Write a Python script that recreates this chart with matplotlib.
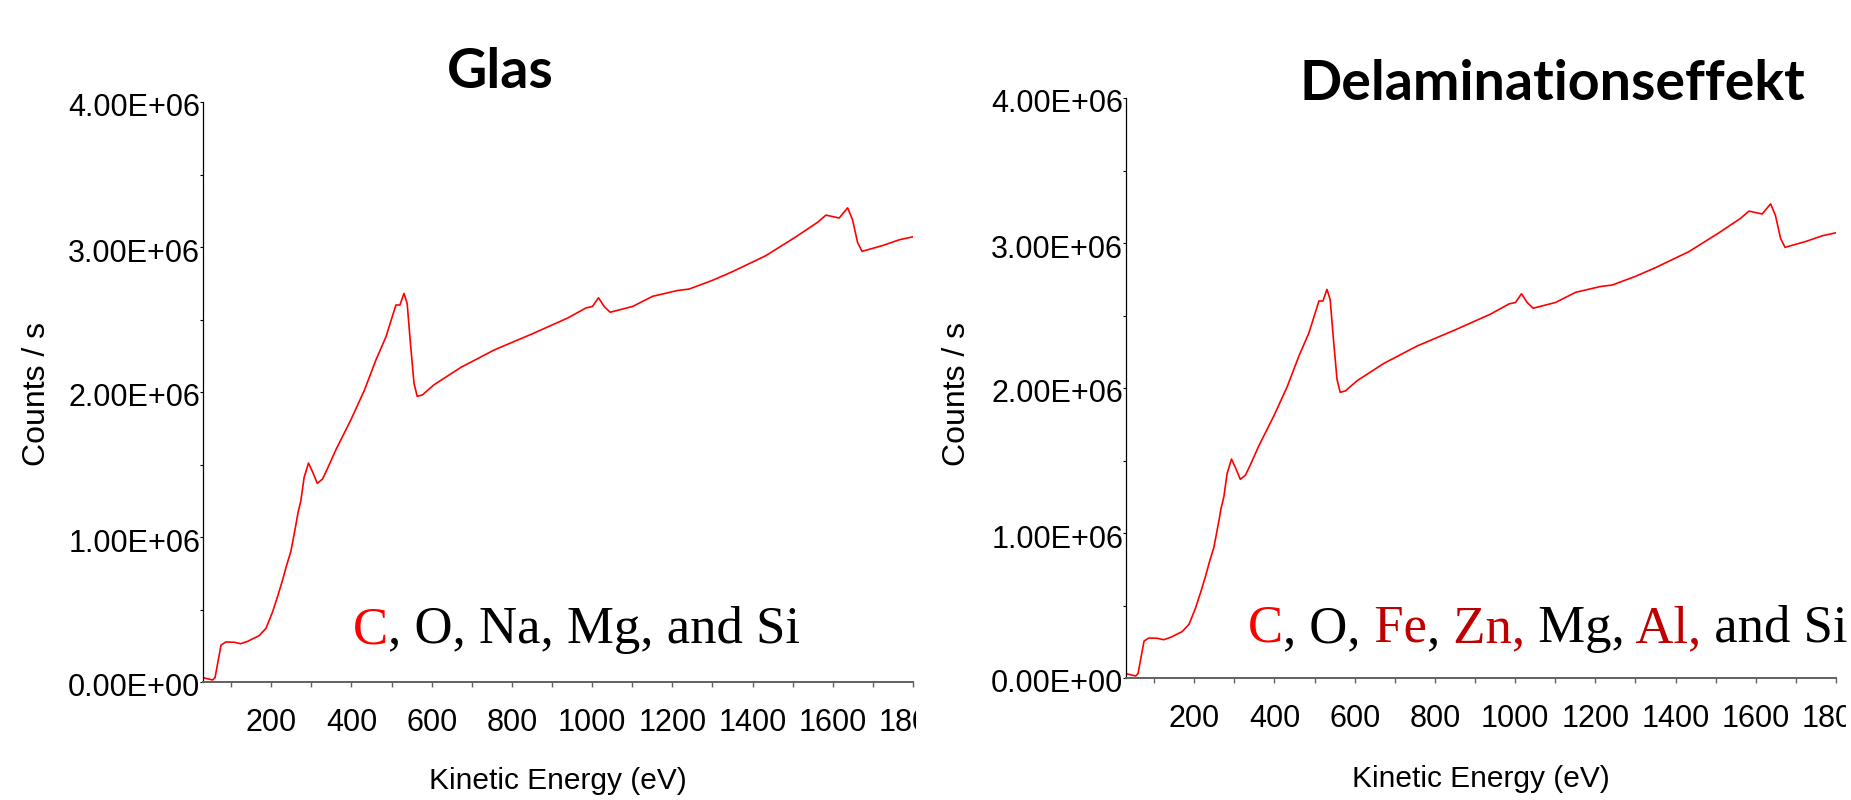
import numpy as np
import matplotlib
matplotlib.use("Agg")
import matplotlib.pyplot as plt
from matplotlib.ticker import FixedLocator, FuncFormatter
from matplotlib.transforms import Bbox, ScaledTranslation

# ---- data (kinetic energy in eV, counts/s in 1e6) ----
energy = [30, 54, 60, 75, 87, 108, 124, 141, 170, 187, 203, 216, 228, 239, 249,
          262, 267, 274, 282, 293, 303, 315, 328, 340, 361, 399, 432, 461, 486,
          511, 521, 531, 539, 547, 556, 564, 577, 606, 673, 756, 850, 939, 985,
          1001, 1016, 1030, 1045, 1101, 1151, 1213, 1242, 1300, 1350, 1433,
          1508, 1562, 1583, 1616, 1637, 1649, 1662, 1673, 1724, 1766, 1799]
counts_glas = [0.03, 0.014, 0.03, 0.255, 0.276, 0.274, 0.264, 0.28, 0.32, 0.37,
               0.48, 0.59, 0.70, 0.81, 0.90, 1.09, 1.17, 1.25, 1.41, 1.51, 1.45,
               1.37, 1.40, 1.47, 1.60, 1.81, 2.01, 2.22, 2.38, 2.60, 2.60, 2.68,
               2.61, 2.34, 2.06, 1.97, 1.98, 2.05, 2.17, 2.29, 2.40, 2.51, 2.58,
               2.59, 2.65, 2.59, 2.55, 2.59, 2.66, 2.70, 2.71, 2.77, 2.83, 2.94,
               3.07, 3.17, 3.22, 3.20, 3.27, 3.19, 3.03, 2.97, 3.01, 3.05, 3.07]
counts_delam = list(counts_glas)  # both spectra look identical in the picture

titles = ["Glas", "Delaminationseffekt"]
xticks_major = [200, 400, 600, 800, 1000, 1200, 1400, 1600, 1800]
yticks_major = [0, 1e6, 2e6, 3e6, 4e6]

# element lists (text, colour)
elements_glas = [("C", "#ff0000"), (", O, Na, Mg, and Si", "black")]
elements_delam = [("C", "#ff0000"), (",", "black"), (" O,", "black"),
                  (" Fe", "#c00000"), (",", "black"), (" Zn,", "#c00000"),
                  (" Mg,", "black"), (" Al,", "#c00000"), (" and Si", "black")]

# ---- figure ----
W, H = 1851, 800
fig = plt.figure(figsize=(W / 100, H / 100), dpi=100)
plt.rcParams['font.family'] = ['Liberation Sans', 'DejaVu Sans']

# axes boxes in pixels: left, bottom(from top), right, top(from top)
boxes = [(203, 682, 913, 102), (1126, 678, 1836, 98)]
label_clip = [916, 1846]
title_pos = [(500, 88), (1552, 100)]
ylabel_x = [37, 957]
xlabel_y = [781, 779]
text_pos = [(353, 643), (1248, 642)]

series = [counts_glas, counts_delam]
elements = [elements_glas, elements_delam]

for i in range(2):
    l, b, r, t = boxes[i]
    ax = fig.add_axes([l / W, (H - b) / H, (r - l) / W, (b - t) / H])
    ax.plot(energy, np.array(series[i]) * 1e6, color='#ff0000', lw=1.2)
    ax.set_xlim(30, 1800)
    ax.set_ylim(0, 4e6)

    for s in ['top', 'right']:
        ax.spines[s].set_visible(False)
    ax.spines['left'].set_color('black')
    ax.spines['left'].set_linewidth(0.9)
    ax.spines['bottom'].set_color('#606060')
    ax.spines['bottom'].set_linewidth(1.4)

    ax.xaxis.set_major_locator(FixedLocator(xticks_major))
    ax.xaxis.set_minor_locator(FixedLocator(np.arange(100, 1800, 200)))
    ax.yaxis.set_major_locator(FixedLocator(yticks_major))
    ax.yaxis.set_minor_locator(FixedLocator([0.5e6, 1.5e6, 2.5e6, 3.5e6]))
    ax.yaxis.set_major_formatter(FuncFormatter(lambda v, p: "{:.2E}".format(v)))

    ax.tick_params(axis='x', which='both', direction='out', length=3.5,
                   width=1, color='#606060', labelsize=22, pad=15.5)
    ax.tick_params(axis='y', which='both', direction='out', length=2,
                   width=0.8, color='black', labelsize=22, pad=0)

    clip = Bbox.from_extents(0, 0, label_clip[i], H)
    for lab in ax.get_xticklabels():
        lab.set_clip_on(True)
        lab.set_clip_box(clip)
    off = ScaledTranslation(0, -3 / 100, fig.dpi_scale_trans)
    for lab in ax.get_yticklabels():
        lab.set_transform(lab.get_transform() + off)

    # titles and axis labels
    tx, ty = title_pos[i]
    fig.text(tx / W, (H - ty) / H, titles[i], ha='center', va='baseline',
             fontsize=40, fontweight='bold', family=['Lato', 'DejaVu Sans'])
    fig.text(ylabel_x[i] / W, 0.508, "Counts / s", rotation=90, ha='center',
             va='center', fontsize=23)
    fig.text((l + r) / 2 / W, (H - xlabel_y[i]) / H, "Kinetic Energy (eV)",
             ha='center', va='center', fontsize=21.5)

    # coloured element list
    px, py = text_pos[i]
    prev = None
    for txt, col in elements[i]:
        if prev is None:
            prev = fig.text(px / W, (H - py) / H, txt, color=col, ha='left',
                            va='baseline', fontsize=38,
                            family=['Liberation Serif', 'DejaVu Serif'])
        else:
            prev = ax.annotate(txt, xy=(1, 0), xycoords=prev, ha='left',
                               va='bottom', color=col, fontsize=38,
                               family=['Liberation Serif', 'DejaVu Serif'],
                               annotation_clip=False)

fig.savefig("out.png", dpi=100, facecolor='white')
